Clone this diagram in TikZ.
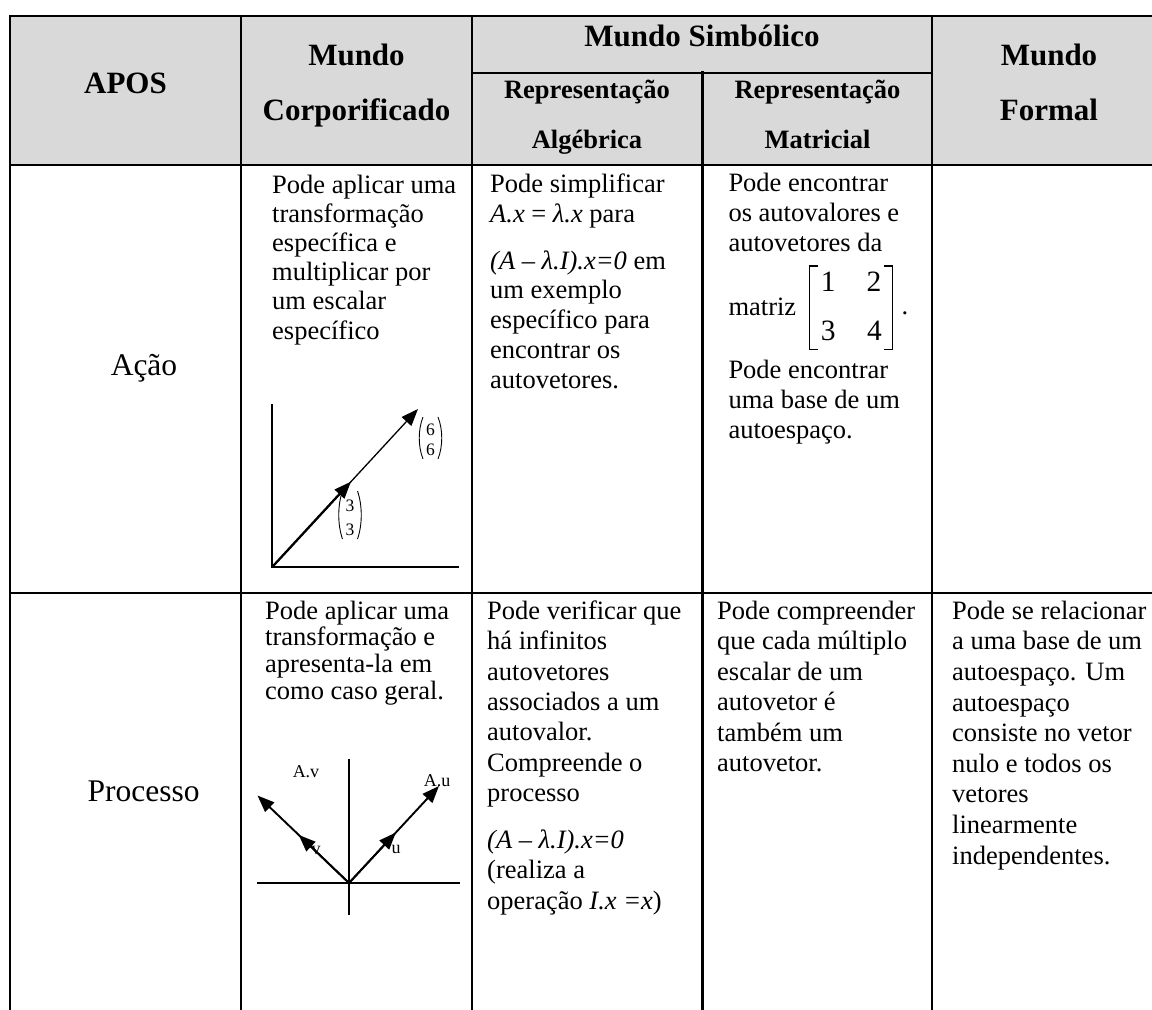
\documentclass[tikz,border=0pt]{standalone}
\usepackage{fontspec}
\setmainfont{Liberation Serif}
\usetikzlibrary{arrows.meta,calc}
\definecolor{headgray}{RGB}{217,217,217}
% one cell of body text: leading, lines
\newcommand\celltext[2]{\fontsize{26.5}{#1}\selectfont\begin{tabular}[t]{@{}l@{}}#2\end{tabular}}

\begin{document}
\begin{tikzpicture}[x=1pt,y=-1pt,
  rule/.style={line width=2.6pt, line cap=rect},
  midrule/.style={line width=2pt, line cap=rect},
  hd/.style={font=\fontsize{31}{36}\selectfont\bfseries, inner sep=0pt, anchor=base},
  subhd/.style={font=\fontsize{26.5}{30}\selectfont\bfseries, inner sep=0pt, anchor=base},
  lvl/.style={font=\fontsize{31.5}{36}\selectfont, inner sep=0pt, anchor=base},
  cell/.style={inner sep=0pt, anchor=base west},
  axis/.style={line width=1.9pt},
  thinaxis/.style={line width=1.5pt},
  vec/.style={line width=1.9pt, -{Triangle[length=17pt,width=13pt]}},
  thinvec/.style={line width=1.3pt, -{Triangle[length=17pt,width=13pt]}},
  small/.style={font=\fontsize{17.5}{20}\selectfont, inner sep=0pt, anchor=base},
  label/.style={font=\fontsize{18}{20}\selectfont, inner sep=0pt, anchor=base},
  paren/.style={line width=0.9pt},
  % column vector: digit, half height
  pics/colvec/.style n args={2}{code={
    \draw[paren] (-7.5,-#2) .. controls (-12.5,-0.4*#2) and (-12.5,0.4*#2) .. (-7.5,#2);
    \draw[paren] (7.5,-#2) .. controls (12.5,-0.4*#2) and (12.5,0.4*#2) .. (7.5,#2);
    \node[small] (-a) at (0,-0.5*#2+8) {#1};
    \node[small] (-b) at (0,#2-3.5) {#1};
  }},
]
\clip (0,0) rectangle (1152,1010);

% header shading
\fill[headgray] (10,16) rectangle (1170,165);

% table rules
\draw[rule] (10,16) -- (1170,16);
\draw[rule] (10,165) -- (1170,165);
\draw[rule] (10,593) -- (1170,593);
\draw[midrule] (472,72.7) -- (932,72.7);
\foreach \x in {10,241,472,932} \draw[rule] (\x,16) -- (\x,1020);
\draw[rule] (702.5,72.7) -- (702.5,1020);

% header
\node[hd] (apos) at (125.5,93.3) {APOS};
\node[hd] (corp1) at (356.5,65) {Mundo};
\node[hd] (corp2) at (356.5,120) {Corporificado};
\node[hd] (simb) at (702,46.7) {Mundo Simbólico};
\node[subhd] (alg1) at (587,98.5) {Representação};
\node[subhd] (alg2) at (587,148.3) {Algébrica};
\node[subhd] (mat1) at (817.5,98.5) {Representação};
\node[subhd] (mat2) at (817.5,148.3) {Matricial};
\node[hd] (form1) at (1049,65) {Mundo};
\node[hd] (form2) at (1049,120) {Formal};

% row labels
\node[lvl] (acao) at (144,375) {Ação};
\node[lvl] (processo) at (143.7,801.7) {Processo};

% row 1: action
\node[cell] (corpA) at (272,193) {\celltext{29.2}{Pode aplicar uma\\transformação\\específica e\\multiplicar por\\um escalar\\específico}};
\node[cell] (algA) at (490,192.7) {\celltext{29.8}{Pode simplificar\\\textit{A.x} = \textit{λ.x} para\\[16.8pt]\textit{(A – λ.I).x=0} em\\um exemplo\\específico para\\encontrar os\\autovetores.}};
\node[cell] (matA1) at (728.3,191.7) {\celltext{30}{Pode encontrar\\os autovalores e\\autovetores da}};
\node[cell] (matriz) at (728.3,315) {\fontsize{26.5}{30}\selectfont matriz};
\node[cell] (matA2) at (728.3,378.3) {\celltext{30}{Pode encontrar\\uma base de um\\autoespaço.}};

% the 2x2 matrix
\draw[line width=1.3pt] (818,266) -- (809.3,266) -- (809.3,349.3) -- (818,349.3);
\draw[line width=1.3pt] (884,266) -- (892.7,266) -- (892.7,349.3) -- (884,349.3);
\node[lvl, font=\fontsize{29.5}{34}\selectfont] (m11) at (828.3,291.7) {1};
\node[lvl, font=\fontsize{29.5}{34}\selectfont] (m12) at (874,291.7) {2};
\node[lvl, font=\fontsize{29.5}{34}\selectfont] (m21) at (828.3,340) {3};
\node[lvl, font=\fontsize{29.5}{34}\selectfont] (m22) at (874.5,340) {4};
\node[lvl, font=\fontsize{26.5}{30}\selectfont] (mdot) at (905,314) {.};

% row 1 sketch: a vector and its double
\coordinate (o1) at (272.2,567);
\coordinate (ytop1) at (272.2,404);
\coordinate (xend1) at (459,567);
\coordinate (t6) at (418,409);
\coordinate (t3) at ($(o1)!0.54!(t6)$);
\draw[axis] (ytop1) -- (o1) -- (xend1);
\draw[thinvec] (o1) -- (t6);
\draw[vec, line width=2.3pt] (o1) -- (t3);
\pic (v6) at (430.5,438) {colvec={6}{21}};
\pic (v3) at (350,515) {colvec={3}{24}};

% row 2: process
\node[cell] (corpP) at (265,619) {\celltext{26.7}{Pode aplicar uma\\transformação e\\apresenta-la em\\como caso geral.}};
\node[cell] (algP) at (487,619.3) {\celltext{30.4}{Pode verificar que\\há infinitos\\autovetores\\associados a um\\autovalor.\\Compreende o\\processo\\[16.2pt]\textit{(A – λ.I).x=0}\\(realiza a\\operação \textit{I.x =x})}};
\node[cell] (matP) at (717,619.3) {\celltext{30.5}{Pode compreender\\que cada múltiplo\\escalar de um\\autovetor é\\também um\\autovetor.}};
\node[cell] (formP) at (952,619.3) {\celltext{30.6}{Pode se relacionar\\a uma base de um\\autoespaço. Um\\autoespaço\\consiste no vetor\\nulo e todos os\\vetores\\linearmente\\independentes.}};

% row 2 sketch: eigenvectors u, v and their images
\coordinate (o2) at (349,883);
\coordinate (xl2) at (257,883);
\coordinate (xr2) at (460,883);
\coordinate (yt2) at (349,758.5);
\coordinate (yb2) at (349,915);
\coordinate (tAu) at (439,786);
\coordinate (tAv) at (257.5,795.5);
\coordinate (tu) at ($(o2)!0.52!(tAu)$);
\coordinate (tv) at ($(o2)!0.55!(tAv)$);
\node[label] (lAv) at (306,777.5) {A.v};
\node[label] (lAu) at (437,786) {A.u};
\node[label] (lu) at (396,853.7) {u};
\node[label] (lv) at (316,854.5) {v};
\draw[thinaxis] (xl2) -- (xr2);
\draw[thinaxis] (yt2) -- (yb2);
\draw[vec] (o2) -- (tAu);
\draw[vec] (o2) -- (tAv);
\draw[vec] (o2) -- (tu);
\draw[vec] (o2) -- (tv);
\end{tikzpicture}
\end{document}
